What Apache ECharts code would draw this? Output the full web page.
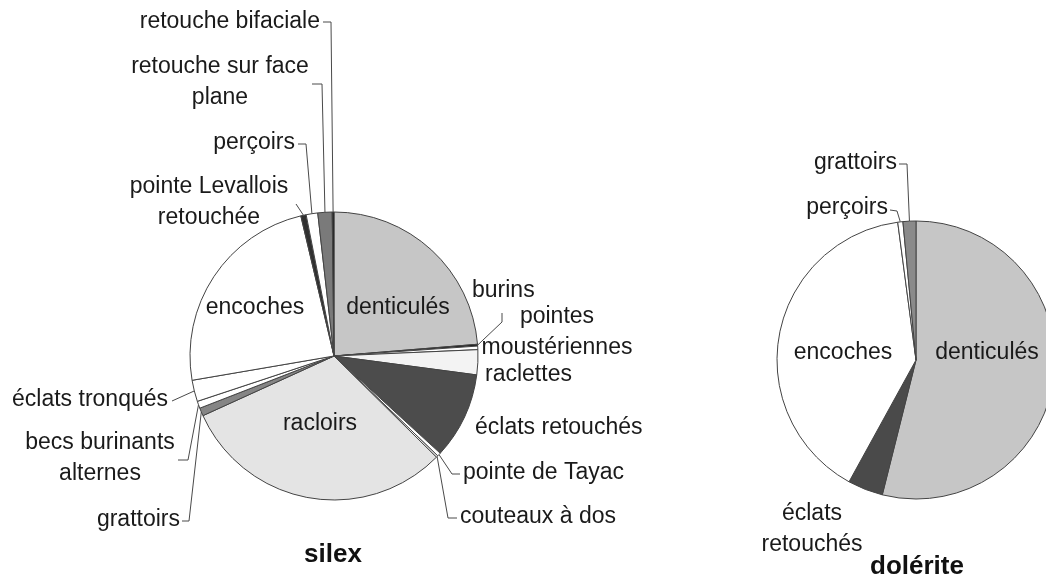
<!DOCTYPE html>
<html>
<head>
<meta charset="utf-8">
<script src="https://cdn.jsdelivr.net/npm/echarts@6/dist/echarts.min.js"></script>
<style>
  html, body { margin: 0; background: #fff; }
  #chart { width: 1046px; height: 583px; }
</style>
</head>
<body>
<div id="chart"></div>
<script>
const silexNames = ['denticulés', 'burins', 'pointes\nmoustériennes', 'raclettes', 'éclats retouchés',
  'pointe de Tayac', 'couteaux à dos', 'racloirs', 'grattoirs', 'becs burinants\nalternes',
  'éclats tronqués', 'encoches', 'pointe Levallois\nretouchée', 'perçoirs',
  'retouche sur face\nplane', 'retouche bifaciale'];
const silexValues = [23.7, 0.2, 0.4, 2.8, 9.7, 0.4, 0.2, 30.8, 0.9, 0.8, 2.4, 24.0, 0.6, 1.3, 1.6, 0.2];

// dolérite
const doleriteNames = ['denticulés', 'éclats\nretouchés', 'encoches', 'perçoirs', 'grattoirs'];
const doleriteValues = [53.9, 4.1, 39.9, 0.6, 1.5];

// couleurs (trames grises de l'original)
const silexColors = ['#c6c6c6', '#1a1a1a', '#ffffff', '#f3f3f3', '#4c4c4c', '#ffffff', '#ffffff', '#e4e4e4',
  '#858585', '#ffffff', '#ffffff', '#ffffff', '#303030', '#ffffff', '#7a7a7a', '#111111'];
const doleriteColors = ['#c6c6c6', '#4a4a4a', '#ffffff', '#ffffff', '#8a8a8a'];

// position des étiquettes et des traits de rappel (côté étiquette)
const silexLabelPos = [
  { x: 398, y: 308, align: 'center' },
  { x: 472, y: 291, align: 'left', line: [[502, 313], [502, 322]] },
  { x: 557, y: 332, align: 'center' },
  { x: 485, y: 375, align: 'left' },
  { x: 475, y: 428, align: 'left' },
  { x: 463, y: 473, align: 'left', line: [[460, 474], [452, 474]] },
  { x: 460, y: 517, align: 'left', line: [[457, 518], [448, 518]] },
  { x: 320, y: 424, align: 'center' },
  { x: 180, y: 520, align: 'right', line: [[182, 521], [189, 521]] },
  { x: 100, y: 458, align: 'center', line: [[178, 460], [188, 460]] },
  { x: 168, y: 400, align: 'right', line: [[172, 401]] },
  { x: 255, y: 308, align: 'center' },
  { x: 209, y: 202, align: 'center', line: [[296, 204]] },
  { x: 295, y: 143, align: 'right', line: [[298, 144], [306, 144]] },
  { x: 220, y: 82, align: 'center', line: [[312, 84], [322, 84]] },
  { x: 320, y: 22, align: 'right', line: [[323, 22], [331, 22]] }
];
const doleriteLabelPos = [
  { x: 987, y: 353, align: 'center' },
  { x: 812, y: 529, align: 'center' },
  { x: 843, y: 353, align: 'center' },
  { x: 888, y: 208, align: 'right', line: [[890, 210], [897, 211]] },
  { x: 897, y: 163, align: 'right', line: [[899, 164], [907, 164]] }
];

const silexCenter = [334, 356], silexRadius = 144;
const doleriteCenter = [916, 360], doleriteRadius = 139;
const font = 'Liberation Sans';

function makeLayout(values, pos, center, radius) {
  const total = values.reduce((a, b) => a + b, 0);
  const mids = [];
  let cum = 0;
  values.forEach(function (v) {
    mids.push((cum + v / 2) / total * 2 * Math.PI);
    cum += v;
  });
  return function (params) {
    const p = pos[params.dataIndex];
    const a = mids[params.dataIndex];
    const edge = [center[0] + radius * Math.sin(a), center[1] - radius * Math.cos(a)];
    const res = { x: p.x, y: p.y, align: p.align, verticalAlign: 'middle' };
    if (p.line) res.labelLinePoints = [edge].concat(p.line.slice().reverse());
    return res;
  };
}

function buildData(names, values, colors, pos) {
  return names.map(function (n, i) {
    return { name: n, value: values[i], itemStyle: { color: colors[i] }, labelLine: { show: !!pos[i].line } };
  });
}

function pieSeries(names, values, colors, pos, center, radius) {
  return {
    type: 'pie',
    center: center,
    radius: radius,
    startAngle: 90,
    clockwise: true,
    avoidLabelOverlap: false,
    silent: true,
    label: {
      show: true, position: 'outside', formatter: '{b}',
      fontFamily: font, fontSize: 23, color: '#1a1a1a', lineHeight: 31,
      width: 240, overflow: 'none'
    },
    labelLine: { show: true, lineStyle: { color: '#4a4a4a', width: 1 } },
    itemStyle: { borderColor: '#444', borderWidth: 1 },
    labelLayout: makeLayout(values, pos, center, radius),
    data: buildData(names, values, colors, pos)
  };
}

const chart = echarts.init(document.getElementById('chart'));
chart.setOption({
  animation: false,
  backgroundColor: '#fff',
  graphic: [
    { type: 'text', x: 333, y: 555, style: { text: 'silex', font: 'bold 26px ' + font, fill: '#111', textAlign: 'center', textVerticalAlign: 'middle' } },
    { type: 'text', x: 917, y: 567, style: { text: 'dolérite', font: 'bold 26px ' + font, fill: '#111', textAlign: 'center', textVerticalAlign: 'middle' } }
  ],
  series: [
    pieSeries(silexNames, silexValues, silexColors, silexLabelPos, silexCenter, silexRadius),
    pieSeries(doleriteNames, doleriteValues, doleriteColors, doleriteLabelPos, doleriteCenter, doleriteRadius)
  ]
});
</script>
</body>
</html>
